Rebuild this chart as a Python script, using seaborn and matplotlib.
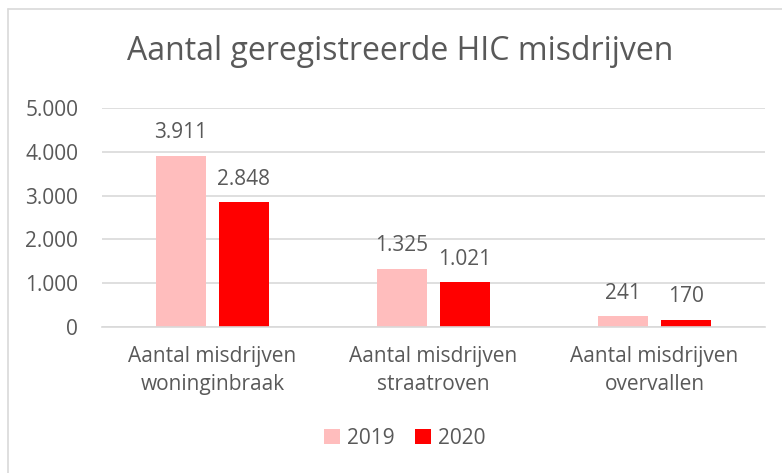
import matplotlib
matplotlib.use("Agg")
import matplotlib.pyplot as plt
import seaborn as sns
import pandas as pd

# Data
categories = ["Aantal misdrijven\nwoninginbraak", "Aantal misdrijven\nstraatroven", "Aantal misdrijven\novervallen"]
years = ["2019", "2020"]
values_2019 = [3911, 1325, 241]
values_2020 = [2848, 1021, 170]

df = pd.DataFrame({
    "categorie": categories * 2,
    "jaar": [years[0]] * 3 + [years[1]] * 3,
    "aantal": values_2019 + values_2020,
})

sns.set_style("white")
plt.rcParams["font.family"] = ["Open Sans", "DejaVu Sans"]
text_color = "#595959"
grid_color = "#d9d9d9"
fs = 15

fig = plt.figure(figsize=(7.82, 4.73), dpi=100)
ax = fig.add_axes([0.1304, 0.3087, 0.8479, 0.4630])

sns.barplot(
    data=df, x="categorie", y="aantal", hue="jaar",
    palette=["#ffbdbd", "#ff0000"], saturation=1, width=0.57, gap=0.2,
    linewidth=0, order=categories, hue_order=years, ax=ax, legend=True,
)

ax.set_xlim(-0.5, 2.5)
ax.set_ylim(0, 5000)
ax.set_yticks(range(0, 5001, 1000))
ax.set_yticklabels([f"{v:,}".replace(",", ".") for v in range(0, 5001, 1000)])
ax.yaxis.grid(True, color=grid_color, linewidth=1.2)
ax.set_axisbelow(True)
for side in ["top", "right", "left"]:
    ax.spines[side].set_visible(False)
ax.spines["bottom"].set_color(grid_color)
ax.spines["bottom"].set_linewidth(1.2)
ax.tick_params(axis="both", length=0, labelsize=fs, colors=text_color)
ax.tick_params(axis="y", pad=17)
ax.tick_params(axis="x", pad=14)
for lbl in ax.get_xticklabels():
    lbl.set_linespacing(1.4)
ax.set_xlabel("")
ax.set_ylabel("")

# data labels
for cont in ax.containers:
    ax.bar_label(cont, labels=[f"{int(v):,}".replace(",", ".") for v in cont.datavalues],
                 padding=9, fontsize=fs, color=text_color)

ax.legend(loc="center", frameon=False, ncol=2, fontsize=fs, handlelength=0.75,
          handleheight=0.75, handletextpad=0.35, columnspacing=1.0, labelcolor=text_color)
leg = ax.get_legend()
leg.set_bbox_to_anchor((405 / 782, 1 - 438 / 473), transform=fig.transFigure)

fig.text(400 / 782, 1 - 52 / 473, "Aantal geregistreerde HIC misdrijven", ha="center", va="center",
         fontsize=23, color=text_color)

# chart border (left and top)
fig.add_artist(plt.Line2D([8 / 782, 8 / 782], [0, 1 - 9 / 473], color=grid_color, linewidth=1.2))
fig.add_artist(plt.Line2D([8 / 782, 1], [1 - 9 / 473, 1 - 9 / 473], color=grid_color, linewidth=1.2))

fig.savefig("out.png", dpi=100)
